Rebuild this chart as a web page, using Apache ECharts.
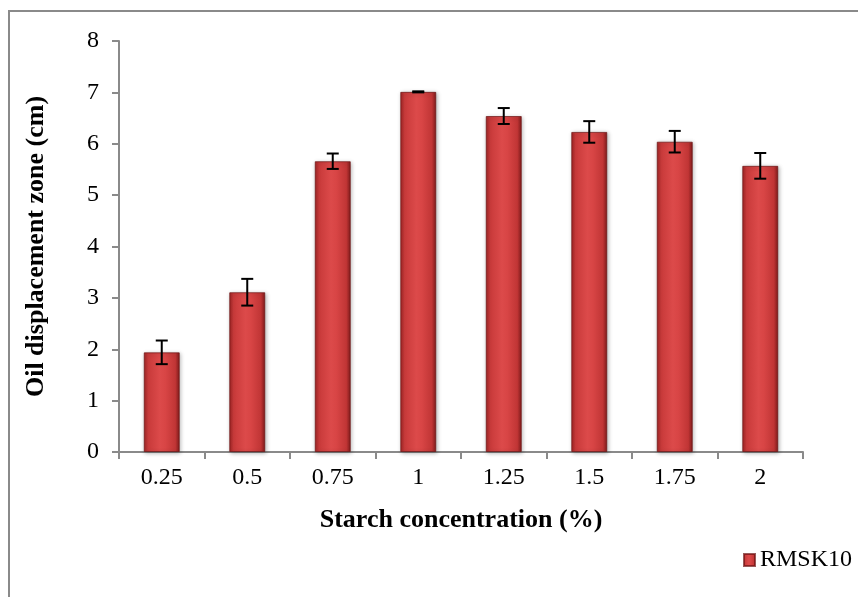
<!DOCTYPE html>
<html>
<head>
<meta charset="utf-8">
<script src="https://cdn.jsdelivr.net/npm/echarts@6/dist/echarts.min.js"></script>
<style>
html,body{margin:0;padding:0;background:#fff;}
#chart{width:858px;height:597px;}
</style>
</head>
<body>
<div id="chart"></div>
<script>
var categories = ['0.25', '0.5', '0.75', '1', '1.25', '1.5', '1.75', '2'];
var values = [1.94, 3.11, 5.66, 7.01, 6.54, 6.23, 6.04, 5.57];
var errors = [0.23, 0.26, 0.15, 0.01, 0.155, 0.21, 0.21, 0.25];
var yTicks = [0, 1, 2, 3, 4, 5, 6, 7, 8];
var seriesName = 'RMSK10';

var FONT = '"Liberation Serif", "Times New Roman", serif';
var chart = echarts.init(document.getElementById('chart'), null, {renderer: 'canvas'});

var barGrad = new echarts.graphic.LinearGradient(0, 0, 1, 0, [
  {offset: 0, color: '#9e2424'},
  {offset: 0.12, color: '#c83a3a'},
  {offset: 0.45, color: '#dc4a4a'},
  {offset: 0.6, color: '#d84545'},
  {offset: 0.88, color: '#c03535'},
  {offset: 1, color: '#7e1a1a'}
]);

var errData = values.map(function (v, i) { return [i, v - errors[i], v + errors[i]]; });

var option = {
  animation: false,
  backgroundColor: '#ffffff',
  graphic: [{
    type: 'rect',
    shape: {x: 9, y: 11, width: 900, height: 700},
    style: {fill: 'none', stroke: '#8a8a8a', lineWidth: 2},
    silent: true, z: -1
  }],
  grid: {left: 119, top: 41, right: 55, bottom: 145, containLabel: false},
  legend: {
    left: 738, top: 543,
    itemWidth: 11, itemHeight: 12, itemGap: 4,
    icon: 'rect',
    data: [seriesName],
    textStyle: {fontFamily: FONT, fontSize: 24, color: '#000'}
  },
  xAxis: {
    type: 'category',
    data: categories,
    name: 'Starch concentration (%)',
    nameLocation: 'middle',
    nameGap: 55,
    nameTextStyle: {fontFamily: FONT, fontSize: 26, fontWeight: 'bold', color: '#000'},
    axisLine: {lineStyle: {color: '#8a8a8a', width: 2}},
    axisTick: {show: true, alignWithLabel: false, length: 7, lineStyle: {color: '#8a8a8a', width: 2}},
    axisLabel: {fontFamily: FONT, fontSize: 24, color: '#000', margin: 14},
    splitLine: {show: false}
  },
  yAxis: {
    type: 'value',
    min: yTicks[0], max: yTicks[yTicks.length - 1], interval: 1,
    name: 'Oil displacement zone (cm)',
    nameLocation: 'middle',
    nameGap: 70,
    nameRotate: 90,
    nameTextStyle: {fontFamily: FONT, fontSize: 26, fontWeight: 'bold', color: '#000'},
    axisLine: {show: true, lineStyle: {color: '#8a8a8a', width: 2}},
    axisTick: {show: true, length: 7, lineStyle: {color: '#8a8a8a', width: 2}},
    axisLabel: {fontFamily: FONT, fontSize: 24, color: '#000', margin: 20},
    splitLine: {show: false}
  },
  series: [{
    name: seriesName,
    type: 'bar',
    data: values,
    barWidth: 36,
    itemStyle: {
      color: barGrad,
      borderColor: 'rgba(110,20,20,0.7)',
      borderWidth: 1,
      shadowBlur: 4,
      shadowColor: 'rgba(0,0,0,0.3)',
      shadowOffsetX: 1,
      shadowOffsetY: 1
    }
  }, {
    name: 'err',
    type: 'custom',
    data: errData,
    z: 10,
    renderItem: function (params, api) {
      var x = api.value(0);
      var lo = api.coord([x, api.value(1)]);
      var hi = api.coord([x, api.value(2)]);
      var hw = 6;
      var st = {stroke: '#000', lineWidth: 2};
      return {
        type: 'group',
        children: [
          {type: 'line', shape: {x1: lo[0], y1: lo[1], x2: hi[0], y2: hi[1]}, style: st},
          {type: 'line', shape: {x1: lo[0] - hw, y1: lo[1], x2: lo[0] + hw, y2: lo[1]}, style: st},
          {type: 'line', shape: {x1: hi[0] - hw, y1: hi[1], x2: hi[0] + hw, y2: hi[1]}, style: st}
        ]
      };
    }
  }]
};
chart.setOption(option);
</script>
</body>
</html>
